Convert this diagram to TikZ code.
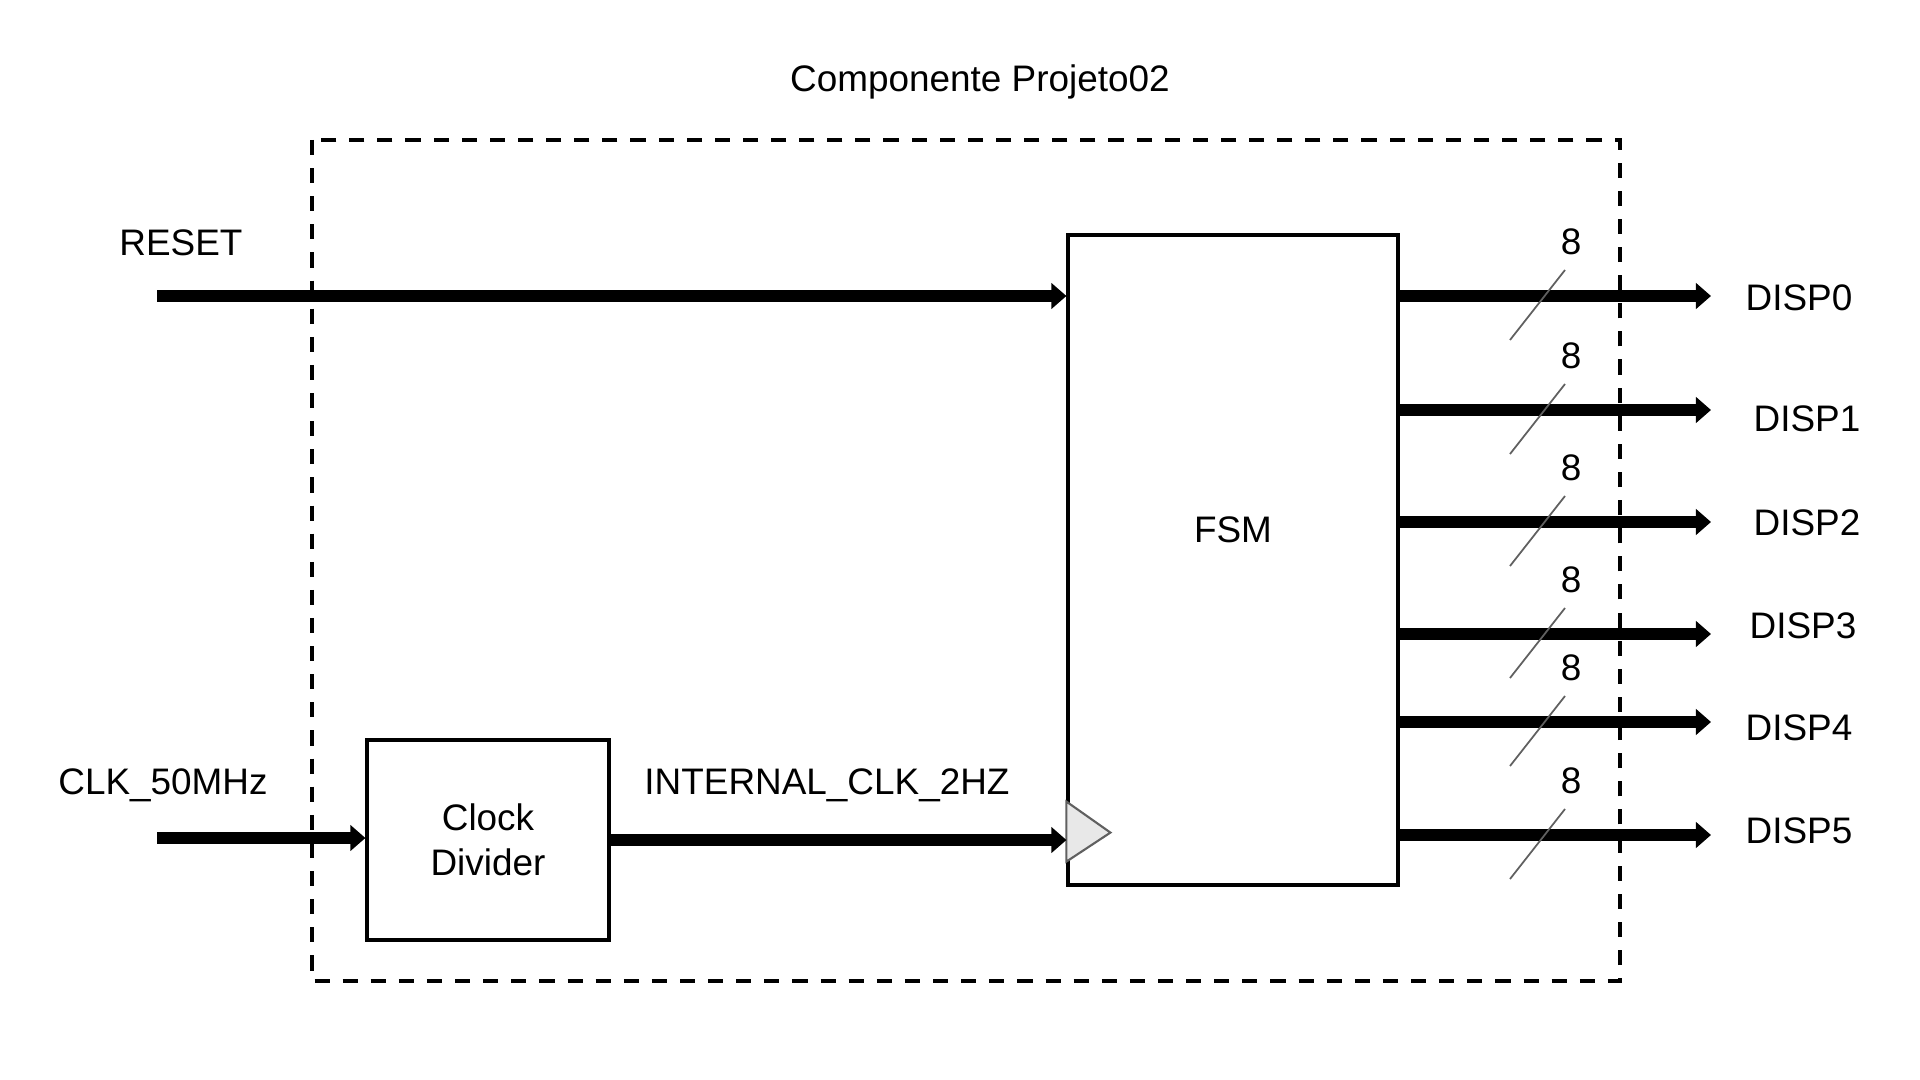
\documentclass[tikz,border=0pt]{standalone}
\usepackage{fontspec}
\setmainfont{Liberation Sans}
\usepackage{tikz}
\usetikzlibrary{positioning, arrows.meta, calc}
\definecolor{clk-gray}{HTML}{E8E8E8}
\definecolor{clk-edge}{HTML}{606060}

\begin{document}
\begin{tikzpicture}[
    font=\fontsize{10.5}{12.8}\selectfont,
    block/.style={draw, line width=0.9pt, inner sep=0pt},
    frame/.style={draw, line width=0.9pt, dash pattern=on 4.3pt off 3.7pt},
    bus/.style={-{Triangle[length=4.3pt, width=7.2pt]}, line width=3.4pt},
    slash/.style={draw=clk-edge, line width=0.5pt},
    clk/.style={draw=clk-edge, fill=clk-gray, line width=0.6pt},
    lbl/.style={inner sep=0pt},
]
    \useasboundingbox (0,0) rectangle (19.2,-10.8);

    % Component frame
    \draw[frame] (3.12,-1.40) rectangle (16.20,-9.81);
    \node[lbl] (title) at (9.80,-0.82) {Componente Projeto02};

    % Blocks
    \node[block, minimum width=3.3cm, minimum height=6.5cm] (fsm) at (12.33,-5.60) {};
    \node[lbl] (fsmtxt) at (12.33,-5.30) {FSM};
    \node[block, minimum width=2.42cm, minimum height=2.0cm, align=center] (cd) at (4.88,-8.40) {Clock\\Divider};

    % Clock input marker
    \draw[clk] ($(fsm.south west)+(0,0.25)$) -- ++(0.44,0.29) -- ++(-0.44,0.31) -- cycle;

    % Inputs
    \coordinate (rst) at (1.57,-2.96);
    \coordinate (clkin) at (1.57,-8.38);
    \node[lbl] (rstlbl) at (1.81,-2.43) {RESET};
    \node[lbl] (clklbl) at (1.63,-7.85) {CLK\_50MHz};
    \node[lbl] (intlbl) at (8.27,-7.85) {INTERNAL\_CLK\_2HZ};

    \draw[bus] (rst) -- (rst -| fsm.west);
    \draw[bus] (clkin) -- (clkin -| cd.west);
    \draw[bus] (cd.east) -- (cd.east -| fsm.west);

    % Outputs
    \foreach \i/\y/\lx/\ly in {0/2.96/17.45/2.98, 1/4.10/17.53/4.19, 2/5.22/17.53/5.23,
                               3/6.34/17.49/6.26, 4/7.22/17.45/7.28, 5/8.35/17.45/8.31} {
        \coordinate (o\i) at (17.11,-\y);
        \draw[bus] (o\i -| fsm.east) -- (o\i);
        \draw[slash] (15.10,-\y-0.44) -- (15.65,-\y+0.26);
        \node[lbl] (w\i) at (15.71,-\y+0.54) {8};
        \node[lbl, anchor=west] (d\i) at (\lx,-\ly) {DISP\i};
    }
\end{tikzpicture}
\end{document}
